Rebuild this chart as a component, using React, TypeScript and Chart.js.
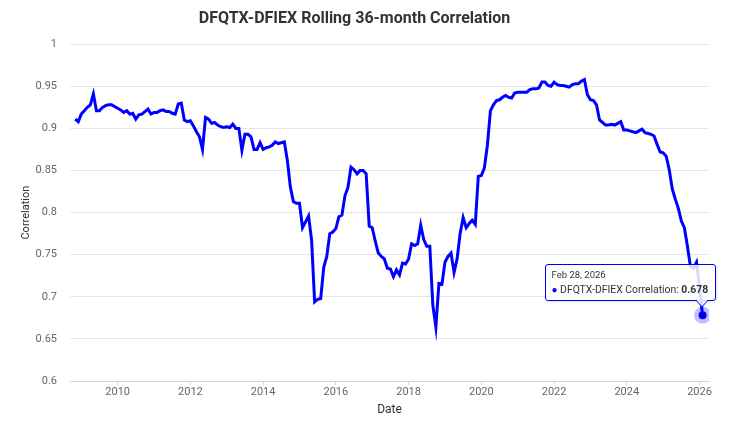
import React, { useEffect, useRef } from "react";
import { Chart, registerables } from "chart.js";

Chart.register(...registerables);

const CHART_TITLE = "DFQTX-DFIEX Rolling 36-month Correlation";
const SERIES_NAME = "DFQTX-DFIEX Correlation";
const X_TITLE = "Date";
const Y_TITLE = "Correlation";

// First month of the series (Nov 2008), monthly through Feb 2026
const START_YEAR = 2008;
const START_MONTH = 11;

const correlation: number[] = [
  0.911, 0.908,
  0.917, 0.921, 0.925, 0.928, 0.941, 0.921, 0.921, 0.925, 0.927, 0.928, 0.928, 0.926,
  0.924, 0.922, 0.919, 0.921, 0.917, 0.918, 0.911, 0.916, 0.917, 0.920, 0.923, 0.917,
  0.919, 0.919, 0.921, 0.922, 0.920, 0.920, 0.918, 0.917, 0.929, 0.930, 0.910, 0.908,
  0.909, 0.903, 0.896, 0.890, 0.875, 0.913, 0.911, 0.906, 0.907, 0.904, 0.902, 0.901,
  0.902, 0.901, 0.905, 0.900, 0.900, 0.874, 0.893, 0.893, 0.890, 0.875, 0.875, 0.883,
  0.875, 0.877, 0.878, 0.880, 0.884, 0.882, 0.883, 0.884, 0.862, 0.830, 0.813, 0.811,
  0.811, 0.782, 0.789, 0.796, 0.767, 0.694, 0.697, 0.698, 0.735, 0.748, 0.775, 0.777,
  0.781, 0.795, 0.797, 0.820, 0.830, 0.854, 0.851, 0.846, 0.850, 0.850, 0.846, 0.784,
  0.782, 0.766, 0.752, 0.748, 0.745, 0.734, 0.733, 0.724, 0.732, 0.726, 0.740, 0.739,
  0.745, 0.763, 0.761, 0.763, 0.785, 0.768, 0.760, 0.760, 0.690, 0.664, 0.716, 0.715,
  0.741, 0.748, 0.752, 0.729, 0.745, 0.775, 0.794, 0.782, 0.787, 0.791, 0.786, 0.843,
  0.844, 0.853, 0.880, 0.921, 0.928, 0.933, 0.934, 0.937, 0.939, 0.937, 0.936, 0.942,
  0.943, 0.943, 0.943, 0.943, 0.946, 0.947, 0.947, 0.948, 0.955, 0.955, 0.951, 0.950,
  0.955, 0.952, 0.951, 0.951, 0.950, 0.949, 0.952, 0.953, 0.953, 0.956, 0.958, 0.940,
  0.934, 0.933, 0.928, 0.910, 0.907, 0.904, 0.904, 0.905, 0.904, 0.906, 0.908, 0.898,
  0.898, 0.897, 0.896, 0.895, 0.897, 0.899, 0.895, 0.894, 0.893, 0.891, 0.881, 0.872,
  0.871, 0.867, 0.851, 0.828, 0.816, 0.805, 0.790, 0.782, 0.760, 0.736, 0.734, 0.741,
  0.712, 0.678,
];

const X_MIN = 2008.69;
const X_MAX = 2026.26;
const X_STEP = 2;
const Y_MIN = 0.6;
const Y_MAX = 1;
const Y_STEP = 0.05;

const MONTH_NAMES = ["Jan", "Feb", "Mar", "Apr", "May", "Jun", "Jul", "Aug", "Sep", "Oct", "Nov", "Dec"];

type Pt = { x: number; y: number; year: number; month: number };

const points: Pt[] = correlation.map((v, i) => {
  const mi = START_MONTH - 1 + i;
  const year = START_YEAR + Math.floor(mi / 12);
  const month = mi % 12;
  return { x: year + month / 12, y: v, year, month };
});

function formatDate(p: Pt): string {
  const lastDay = new Date(p.year, p.month + 1, 0).getDate();
  return `${MONTH_NAMES[p.month]} ${lastDay}, ${p.year}`;
}

export default function App() {
  const canvasRef = useRef<HTMLCanvasElement | null>(null);
  const tipRef = useRef<HTMLDivElement | null>(null);

  useEffect(() => {
    document.body.style.margin = "0";
    const canvas = canvasRef.current;
    if (!canvas) return;
    const font = "Roboto, 'Noto Sans', sans-serif";

    const chart = new Chart(canvas, {
      type: "line",
      data: {
        datasets: [
          {
            label: SERIES_NAME,
            data: points,
            borderColor: "#0000ff",
            backgroundColor: "#0000ff",
            borderWidth: 3,
            pointRadius: 0,
            pointHoverRadius: 4,
            pointHoverBackgroundColor: "#0000e6",
            pointHoverBorderColor: "rgba(0,0,255,0.25)",
            pointHoverBorderWidth: 9,
            tension: 0,
            fill: false,
          },
        ],
      },
      options: {
        animation: false,
        responsive: true,
        maintainAspectRatio: false,
        events: [],
        parsing: false as any,
        layout: { padding: { left: 0, right: 28, top: 0, bottom: 0 } },
        font: { family: font },
        plugins: {
          legend: { display: false },
          title: {
            display: true,
            text: CHART_TITLE,
            color: "#333333",
            font: { family: font, size: 16, weight: "bold" },
            padding: { top: 9, bottom: 16 },
          },
          tooltip: {
            enabled: false,
            external: (ctx: any) => {
              const { tooltip } = ctx;
              const el = tipRef.current;
              if (!el) return;
              if (!tooltip || tooltip.opacity === 0 || !tooltip.dataPoints?.length) {
                el.style.opacity = "0";
                return;
              }
              const dp = tooltip.dataPoints[0];
              const p = dp.raw as Pt;
              const titleEl = el.querySelector("[data-role=title]") as HTMLElement;
              const nameEl = el.querySelector("[data-role=name]") as HTMLElement;
              const valEl = el.querySelector("[data-role=value]") as HTMLElement;
              titleEl.textContent = formatDate(p);
              nameEl.textContent = `${dp.dataset.label}: `;
              valEl.textContent = p.y.toFixed(3);
              el.style.opacity = "1";
              const w = el.offsetWidth;
              const h = el.offsetHeight;
              el.style.left = `${tooltip.caretX + 14 - w}px`;
              el.style.top = `${tooltip.caretY - 14 - h}px`;
            },
          },
        },
        scales: {
          x: {
            type: "linear",
            min: X_MIN,
            max: X_MAX,
            afterFit: (scale: any) => {
              scale.height = 46;
            },
            border: { display: true, color: "#ccd6eb", width: 1 },
            grid: {
              display: true,
              drawOnChartArea: false,
              drawTicks: true,
              tickLength: 4,
              color: "#ccd6eb",
            },
            ticks: {
              stepSize: X_STEP,
              includeBounds: false,
              padding: 1,
              color: "#666666",
              font: { family: font, size: 11 },
              maxRotation: 0,
              autoSkip: false,
              callback: (v: any) => String(Math.round(Number(v))),
            },
            title: {
              display: true,
              text: X_TITLE,
              color: "#333333",
              font: { family: font, size: 12 },
              padding: { top: 0, bottom: 10 },
            },
          },
          y: {
            type: "linear",
            min: Y_MIN,
            max: Y_MAX,
            afterFit: (scale: any) => {
              scale.width = 70;
            },
            border: { display: false },
            grid: {
              color: "#e6e6e6",
              drawTicks: false,
              lineWidth: 1,
            },
            ticks: {
              stepSize: Y_STEP,
              padding: 13,
              color: "#666666",
              font: { family: font, size: 11 },
              callback: (v: any) => String(parseFloat(Number(v).toFixed(2))),
            },
            title: {
              display: true,
              text: Y_TITLE,
              color: "#333333",
              font: { family: font, size: 11 },
              padding: { top: 20, bottom: 0 },
            },
          },
        },
      } as any,
    });

    const last = points.length - 1;
    const meta = chart.getDatasetMeta(0);
    const el: any = meta.data[last];
    chart.setActiveElements([{ datasetIndex: 0, index: last }]);
    chart.tooltip?.setActiveElements([{ datasetIndex: 0, index: last }], { x: el.x, y: el.y });
    chart.update();

    return () => {
      chart.destroy();
    };
  }, []);

  return (
    <div style={{ position: "relative", width: 737, height: 427 }}>
      <canvas ref={canvasRef} />
      <div
        ref={tipRef}
        style={{
          position: "absolute",
          left: 0,
          top: 0,
          opacity: 0,
          pointerEvents: "none",
          fontFamily: "Roboto, 'Noto Sans', sans-serif",
          color: "#333333",
          whiteSpace: "nowrap",
        }}
      >
        <div
          style={{
            background: "rgba(255,255,255,0.85)",
            border: "1px solid #0000ff",
            borderRadius: 3,
            padding: "3px 7px 3px 6px",
            boxShadow: "1px 1px 2px rgba(0,0,0,0.12)",
          }}
        >
          <div data-role="title" style={{ fontSize: 9.5, lineHeight: "14px" }} />
          <div style={{ fontSize: 10.4, lineHeight: "15px" }}>
            <span style={{ color: "#0000ff", fontSize: 10 }}>{"\u25CF"} </span>
            <span data-role="name" />
            <span data-role="value" style={{ fontWeight: "bold" }} />
          </div>
        </div>
        <svg
          width={12}
          height={8}
          style={{ position: "absolute", right: 8, bottom: -7, overflow: "visible" }}
        >
          <polygon points="0,0 12,0 6,7" fill="rgba(255,255,255,0.85)" />
          <polyline points="0,0 6,7 12,0" fill="none" stroke="#0000ff" strokeWidth={1} />
        </svg>
      </div>
    </div>
  );
}
